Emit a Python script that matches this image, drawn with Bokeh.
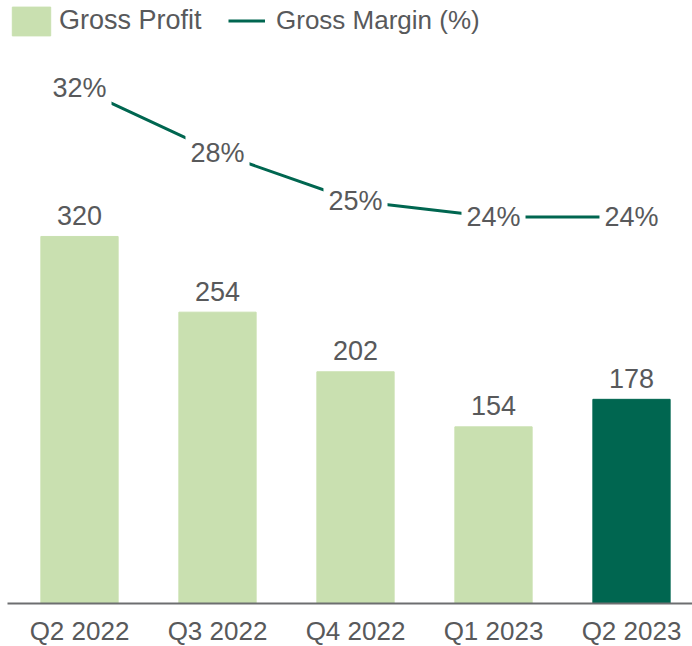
from bokeh.plotting import figure
from bokeh.models import (ColumnDataSource, Range1d, LinearAxis, LabelSet,
                          Legend, LegendItem, FixedTicker, Text)
from bokeh.core.properties import value
from bokeh.embed import file_html
from bokeh.resources import INLINE

quarters = ["Q2 2022", "Q3 2022", "Q4 2022", "Q1 2023", "Q2 2023"]
gross_profit = [320, 254, 202, 154, 178]
gross_margin = [32, 28, 25, 24, 24]
bar_colors = ["#c9e0b0", "#c9e0b0", "#c9e0b0", "#c9e0b0", "#006650"]

FONT = "Liberation Sans"
TXT = "#58595b"
LINE = "#006650"

idx = list(range(len(quarters)))
src = ColumnDataSource(dict(
    x=idx, q=quarters, gp=gross_profit, gm=gross_margin, color=bar_colors,
    gp_lbl=[str(v) for v in gross_profit],
    gm_lbl=[f"{v}%" for v in gross_margin],
))

FW, FH = 685, 603
x0 = -72 / 138
p = figure(frame_width=FW, frame_height=FH, output_backend="svg", toolbar_location=None,
           x_range=Range1d(x0, x0 + FW / 138),
           y_range=Range1d(0, FH / 1.147),
           y_axis_location=None, x_axis_location=None,
           min_border_left=7, min_border_right=0,
           min_border_top=0, min_border_bottom=40)
p.outline_line_color = None
p.xgrid.visible = False
p.ygrid.visible = False
p.background_fill_color = "white"
p.border_fill_color = "white"

p.extra_y_ranges = {"pct": Range1d(0, FH / 16.1)}

bars = p.vbar(x="x", top="gp", width=0.56, color="color", source=src)
line = p.line(x="x", y="gm", line_color=LINE, line_width=3, y_range_name="pct", source=src)

xaxis = LinearAxis(ticker=FixedTicker(ticks=idx),
                   major_label_overrides={i: q for i, q in zip(idx, quarters)})
xaxis.axis_line_color = "#6d6e70"
xaxis.axis_line_width = 2
xaxis.major_tick_line_color = None
xaxis.minor_tick_line_color = None
xaxis.major_label_standoff = 6
xaxis.major_label_text_font = FONT
xaxis.major_label_text_font_size = "26px"
xaxis.major_label_text_color = TXT
p.add_layout(xaxis, "below")

gp_labels = LabelSet(x="x", y="gp", text="gp_lbl", source=src,
                     text_align="center", text_baseline="middle", y_offset=21,
                     text_font=value(FONT), text_font_size="27px", text_color=TXT)
p.add_layout(gp_labels)

text_kw = dict(x="x", y="gm", text="gm_lbl", source=src, y_range_name="pct",
               text_align="center", text_baseline="middle",
               text_font=value(FONT), text_font_size="27px", text_color=TXT)
props = Text.properties()
if "background_fill_color" in props:
    text_kw["background_fill_color"] = "white"
if "padding" in props:
    text_kw["padding"] = 5
p.text(**text_kw)

common = dict(orientation="horizontal", padding=0, margin=0,
              label_text_font=FONT, label_text_color=TXT,
              border_line_color=None, background_fill_alpha=0)
legend1 = Legend(items=[LegendItem(label="Gross Profit", renderers=[bars], index=0)],
                 location=(0, FH - 38.6), glyph_width=48, glyph_height=36,
                 label_height=36, label_standoff=4, label_text_font_size="27px", **common)
legend2 = Legend(items=[LegendItem(label="Gross Margin (%)", renderers=[line])],
                 location=(221, FH - 35.5), glyph_width=37, glyph_height=29,
                 label_height=29, label_standoff=11, label_text_font_size="26px", **common)
p.add_layout(legend1, "center")
p.add_layout(legend2, "center")

open("out.html", "w").write(file_html(p, INLINE))
